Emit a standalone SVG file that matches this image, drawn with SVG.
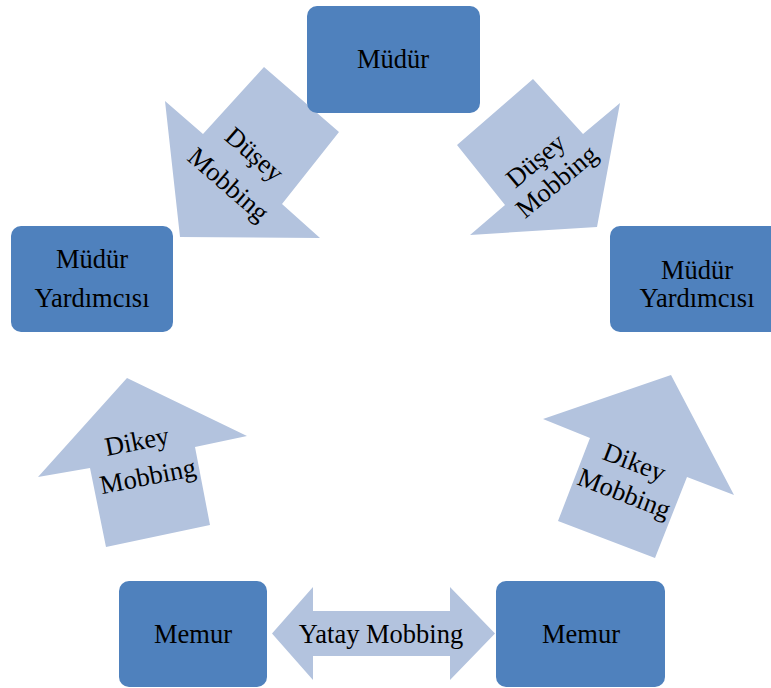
<svg xmlns="http://www.w3.org/2000/svg" width="771" height="688" viewBox="0 0 771 688">
<style>
.box{fill:#4F81BD;}
.arr{fill:#B3C3DE;}
text{font-family:"Liberation Serif","Times New Roman",serif;font-size:26.5px;fill:#000;text-anchor:middle;}
</style>
<rect width="771" height="688" fill="#fff"/>
<g id="connectors">
<g id="arrow-duşey-left">
<polygon class="arr" points="264,67 339,132 282,204 320,238 180,237 165,101 203,134"/>
<text transform="translate(254,155) rotate(41)" y="8">Düşey</text>
<text transform="translate(228,185) rotate(41)" y="8">Mobbing</text>
</g>
<g id="arrow-duşey-right">
<polygon class="arr" points="533,79 583,134 620,103 597,227 470,235 505,205 457,145"/>
<text transform="translate(536,161) rotate(-40)" y="8">Düşey</text>
<text transform="translate(557,182) rotate(-40)" y="8">Mobbing</text>
</g>
<g id="arrow-dikey-left">
<polygon class="arr" points="127,378 247,436 195,447 210,525 106,547 90,468 38,477"/>
<text transform="translate(137,442) rotate(-11)" y="8">Dikey</text>
<text transform="translate(148,477) rotate(-11)" y="8">Mobbing</text>
</g>
<g id="arrow-dikey-right">
<polygon class="arr" points="671,375 734,495 687,477 655,558 558,521 590,438 543,419"/>
<text transform="translate(634,463) rotate(21)" y="8">Dikey</text>
<text transform="translate(624,494) rotate(21)" y="8">Mobbing</text>
</g>
<g id="arrow-yatay">
<polygon class="arr" points="272,633.5 313,587 313,611 450,611 450,587 495,633.5 450,680 450,656 313,656 313,680"/>
<text x="381" y="643">Yatay Mobbing</text>
</g>
</g>
<g id="node-mudur">
<rect class="box" x="307" y="6" width="173" height="107" rx="10"/>
<text x="393" y="68">Müdür</text>
</g>
<g id="node-yardimci-left">
<rect class="box" x="11" y="226" width="162" height="106" rx="10"/>
<text x="92" y="268">Müdür</text>
<text x="92" y="307">Yardımcısı</text>
</g>
<g id="node-yardimci-right">
<rect class="box" x="610" y="226" width="172" height="106" rx="10"/>
<text x="697" y="279">Müdür</text>
<text x="697" y="307">Yardımcısı</text>
</g>
<g id="node-memur-left">
<rect class="box" x="119" y="581" width="148" height="106" rx="10"/>
<text x="193" y="643">Memur</text>
</g>
<g id="node-memur-right">
<rect class="box" x="496" y="581" width="169" height="106" rx="10"/>
<text x="581" y="643">Memur</text>
</g>
</svg>
